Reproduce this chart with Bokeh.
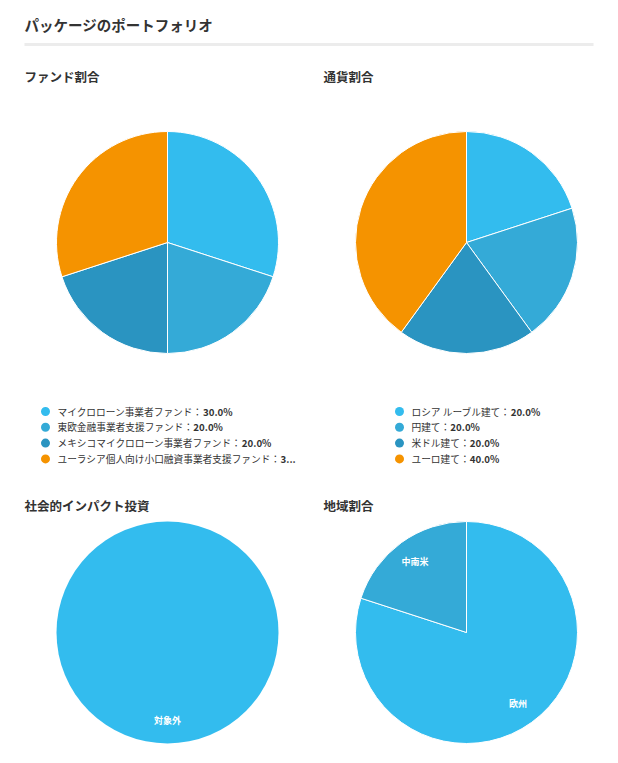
import math
from bokeh.plotting import figure
from bokeh.models import Range1d, ColumnDataSource
from bokeh.core.properties import value
from bokeh.embed import file_html
from bokeh.resources import INLINE

# ---- data ----
page_title = "パッケージのポートフォリオ"
fund_title = "ファンド割合"
fund_labels = ["マイクロローン事業者ファンド", "東欧金融事業者支援ファンド",
               "メキシコマイクロローン事業者ファンド", "ユーラシア個人向け小口融資事業者支援ファンド"]
fund_values = [30.0, 20.0, 20.0, 30.0]

currency_title = "通貨割合"
currency_labels = ["ロシア ルーブル建て", "円建て", "米ドル建て", "ユーロ建て"]
currency_values = [20.0, 20.0, 20.0, 40.0]

impact_title = "社会的インパクト投資"
impact_labels = ["対象外"]
impact_values = [100.0]

region_title = "地域割合"
region_labels = ["欧州", "中南米"]
region_values = [80.0, 20.0]

palette = ["#33BCEE", "#34AAD7", "#2A94C1", "#F59300"]

FONT = "Noto Sans CJK JP"
W, H = 602, 747
PAGE_H = 763


def Y(py):
    return PAGE_H - py


p = figure(width=W, height=H, x_range=Range1d(0, W), y_range=Range1d(PAGE_H - H, PAGE_H),
           output_backend="svg", toolbar_location=None, x_axis_type=None, y_axis_type=None,
           min_border=0, min_border_left=0, min_border_right=0, min_border_top=0, min_border_bottom=0)
p.outline_line_color = None
p.grid.visible = False
p.background_fill_color = "white"
p.border_fill_color = "white"


def txt(x, y, s, size, color="#333333", weight="bold", align="left"):
    p.text(x=[x], y=[Y(y)], text=[s], text_font=value(FONT), text_font_size=f"{size}px",
           text_font_style=weight, text_color=color, text_align=align, text_baseline="middle")


def em_width(s):
    w = 0.0
    for ch in s:
        if ord(ch) >= 0x2E80:
            w += 1.0
        elif ch == " ":
            w += 0.224
        else:
            w += 0.56
    return w


# header
txt(24, 24, page_title, 14.5)
p.segment(x0=[24], y0=[Y(44)], x1=[593], y1=[Y(44)], line_color="#ececec", line_width=3)


def pie(cx, cy, r, labels, values, show_labels=False):
    total = sum(values)
    if len(values) == 1:
        p.circle(x=[cx], y=[Y(cy)], radius=r, fill_color=palette[0], line_color=None)
        starts, ends = [math.pi / 2], [math.pi / 2 - 2 * math.pi]
    else:
        starts, ends = [], []
        cum = 0.0
        for v in values:
            starts.append(math.pi / 2 - 2 * math.pi * cum / total)
            cum += v
            ends.append(math.pi / 2 - 2 * math.pi * cum / total)
        src = ColumnDataSource(dict(start=starts, end=ends, color=palette[:len(values)]))
        p.wedge(x=cx, y=Y(cy), radius=r, start_angle="start", end_angle="end", direction="clock",
                fill_color="color", line_color="white", line_width=1, source=src)
    if show_labels:
        for lab, s, e in zip(labels, starts, ends):
            m = (s + e) / 2
            lx = cx + 0.79 * r * math.cos(m)
            ly = Y(cy) + 0.79 * r * math.sin(m)
            p.text(x=[lx], y=[ly], text=[lab], text_font=value(FONT), text_font_size="9px",
                   text_font_style="bold", text_color="white", text_align="center",
                   text_baseline="middle")


LEG_FS = 9.7


def legend(x, y0, labels, values, maxlen=24):
    for i, (lab, v) in enumerate(zip(labels, values)):
        head = f"{lab}："
        full = head + f"{v:.1f}%"
        if len(full) > maxlen:
            full = full[:maxlen] + "..."
        head = full[:len(head)]
        tail = full[len(head):]
        y = y0 + i * 15.8
        p.scatter(x=[x], y=[Y(y)], size=9, marker="circle", fill_color=palette[i], line_color=None)
        txt(x + 12, y, head, LEG_FS, color="#333333", weight="normal")
        txt(x + 12 + em_width(head) * LEG_FS, y, tail, LEG_FS, color="#333333", weight="bold")


txt(24, 76, fund_title, 12.5)
txt(323, 76, currency_title, 12.5)
pie(167, 242, 111, fund_labels, fund_values)
pie(466, 242, 111, currency_labels, currency_values)
legend(45, 411, fund_labels, fund_values)
legend(399, 411, currency_labels, currency_values)

txt(24, 505, impact_title, 12.5)
txt(323, 505, region_title, 12.5)
pie(167, 632, 111, impact_labels, impact_values, show_labels=True)
pie(466, 632, 111, region_labels, region_values, show_labels=True)

open("out.html", "w").write(file_html(p, INLINE))
